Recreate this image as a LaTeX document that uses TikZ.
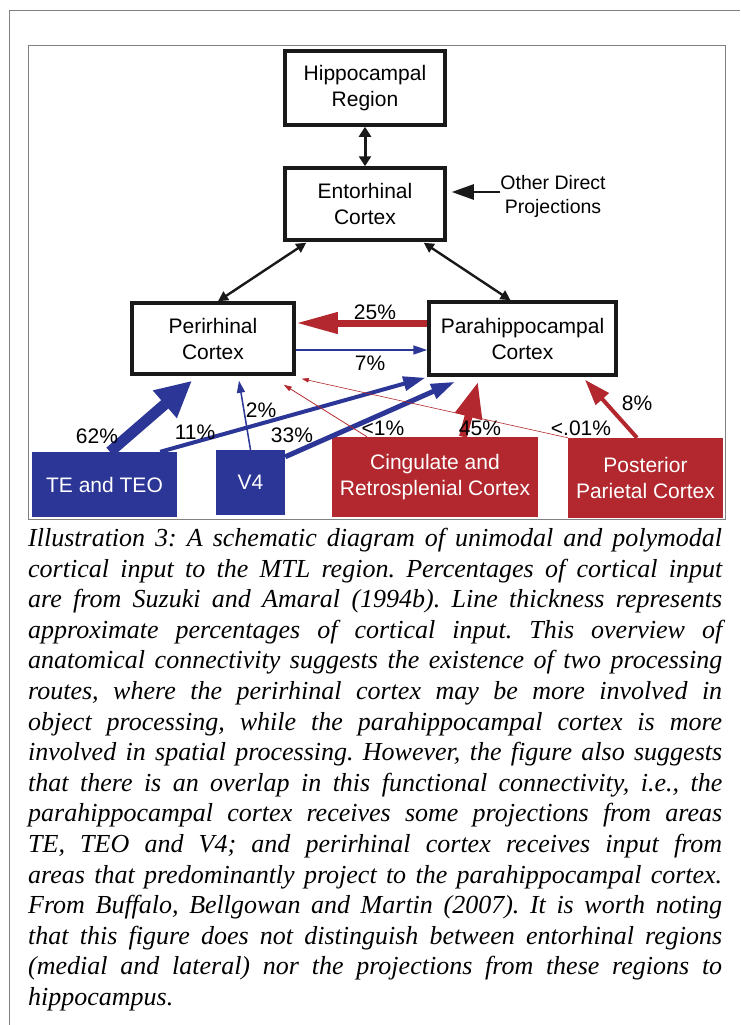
\documentclass[tikz,border=0pt]{standalone}
\usepackage{fontspec}
\setmainfont{Liberation Sans}
\newfontfamily\capfont{Liberation Serif}
\usetikzlibrary{arrows.meta}
\definecolor{inblue}{RGB}{44,54,150}
\definecolor{inred}{RGB}{178,40,46}
\frenchspacing

\begin{document}
\begin{tikzpicture}[x=1pt,y=-1pt,
  region/.style={draw=black!90, line width=3.5pt, inner sep=0pt, align=center, font=\fontsize{21}{26}\selectfont},
  source/.style={fill=#1, text=white, inner sep=0pt, align=center, font=\fontsize{21}{26}\selectfont},
  pct/.style={inner sep=0pt, font=\fontsize{21}{26}\selectfont},
  proj/.style n args={3}{line width=#1, -{Triangle[length=#2,width=#3]}},
  recip/.style={black!90, line width=2.4pt, {Triangle[length=10pt,width=10pt]}-{Triangle[length=10pt,width=10pt]}}]
\useasboundingbox (0,0) rectangle (740,1025);
% frames
\draw [gray, line width=1pt] (9,1025) -- (9,11) -- (740,11);
\draw [gray, line width=1pt] (28,46) rectangle (725,519);
% MTL boxes
\node (hippo) [region, minimum width=160pt, minimum height=74pt] at (365,88) {Hippocampal\\Region};
\node (ento) [region, minimum width=160pt, minimum height=72pt] at (365,204) {Entorhinal\\Cortex};
\node (peri) [region, minimum width=162pt, minimum height=71pt] at (213,338.5) {Perirhinal\\Cortex};
\node (para) [region, minimum width=187pt, minimum height=73pt] at (522.5,338.5) {Parahippocampal\\Cortex};
\node (other) [pct, align=center, font=\fontsize{19.5}{24}\selectfont] at (553,196) {Other Direct\\Projections};
% cortical sources
\node (te) [source=inblue, minimum width=145pt, minimum height=65pt] at (104.5,484.5) {TE and TEO};
\node (vfour) [source=inblue, minimum width=69pt, minimum height=65pt] at (250.5,482.5) {V4};
\node (cing) [source=inred, minimum width=206pt, minimum height=80pt] at (435,477) {Cingulate and\\Retrosplenial Cortex};
\node (post) [source=inred, minimum width=155pt, minimum height=80pt] at (645.5,478) {Posterior\\Parietal Cortex};
% links to entorhinal
\draw [recip, line width=3pt, {Triangle[length=10pt,width=12pt]}-{Triangle[length=10pt,width=12pt]}] (hippo.south) -- (ento.north);
\draw [recip] ([xshift=23pt,yshift=-1pt]ento.south west) -- ([xshift=5pt]peri.north);
\draw [recip] ([xshift=-23pt,yshift=-1pt]ento.south east) -- ([xshift=-12pt]para.north);
\draw [black!90, line width=2.5pt, -{Triangle[length=22pt,width=15pt]}] ([yshift=4pt]other.west) -- ([xshift=5pt,yshift=12pt]ento.east);
% perirhinal <-> parahippocampal
\draw [proj={7pt}{42pt}{20pt}, inred] ([yshift=15.5pt]para.west) -- ([yshift=15.5pt]peri.east);
\draw [proj={1.5pt}{14pt}{9pt}, inblue] ([yshift=-11.5pt]peri.east) -- ([yshift=-11.5pt]para.west);
% unimodal input
\draw [proj={11pt}{36pt}{34pt}, inblue] ([xshift=5.5pt]te.north) -- ([xshift=-21pt,yshift=-5pt]peri.south);
\draw [proj={4pt}{22pt}{14pt}, inblue] ([xshift=-17pt]te.north east) -- ([xshift=-2pt,yshift=-1pt]para.south west);
\draw [proj={1.5pt}{12pt}{8pt}, inblue] (vfour.north) -- ([xshift=26pt,yshift=-5pt]peri.south);
\draw [proj={5pt}{24pt}{15pt}, inblue] ([yshift=-7pt]vfour.north east) -- ([xshift=-67.5pt,yshift=-5pt]para.south);
% polymodal input
\draw [proj={0.8pt}{8pt}{5pt}, inred] ([xshift=-68pt]cing.north) -- ([xshift=-12pt,yshift=-9pt]peri.south east);
\draw [proj={0.6pt}{7pt}{4.5pt}, inred] (post.north west) -- ([xshift=6pt,yshift=-3pt]peri.south east);
\draw [proj={8pt}{36pt}{26pt}, inred] ([xshift=28pt]cing.north) -- ([xshift=-44.5pt,yshift=-5pt]para.south);
\draw [proj={4pt}{26pt}{17pt}, inred] ([xshift=-8.5pt]post.north) -- ([xshift=62.5pt,yshift=-3pt]para.south);
% percentages
\node (p25) [pct] at (375,312) {25\%};
\node (p7) [pct] at (370,363) {7\%};
\node (p62) [pct] at (97,436) {62\%};
\node (p11) [pct] at (195,432) {11\%};
\node (p2) [pct] at (261,410) {2\%};
\node (p33) [pct] at (292,435) {33\%};
\node (p1) [pct] at (383,428) {<1\%};
\node (p45) [pct] at (480,428) {45\%};
\node (p01) [pct] at (581,428) {<.01\%};
\node (p8) [pct] at (637,403) {8\%};
% caption
\node (caption) [anchor=north west, inner sep=0pt, text width=694pt, align=justify, font=\capfont\itshape\fontsize{26}{30.6}\selectfont] at (28,528) {\tolerance=10000\hyphenpenalty=10000
Illustration 3: A schematic diagram of unimodal and polymodal\linebreak
cortical input to the MTL region. Percentages of cortical input\linebreak
are from Suzuki and Amaral (1994b). Line thickness represents\linebreak
approximate percentages of cortical input. This overview of\linebreak
anatomical connectivity suggests the existence of two processing\linebreak
routes, where the perirhinal cortex may be more involved in\linebreak
object processing, while the parahippocampal cortex is more\linebreak
involved in spatial processing. However, the figure also suggests\linebreak
that there is an overlap in this functional connectivity, i.e., the\linebreak
parahippocampal cortex receives some projections from areas\linebreak
TE, TEO and V4; and perirhinal cortex receives input from\linebreak
areas that predominantly project to the parahippocampal cortex.\linebreak
From Buffalo, Bellgowan and Martin (2007). It is worth noting\linebreak
that this figure does not distinguish between entorhinal regions\linebreak
(medial and lateral) nor the projections from these regions to\linebreak
hippocampus.};
\end{tikzpicture}
\end{document}
